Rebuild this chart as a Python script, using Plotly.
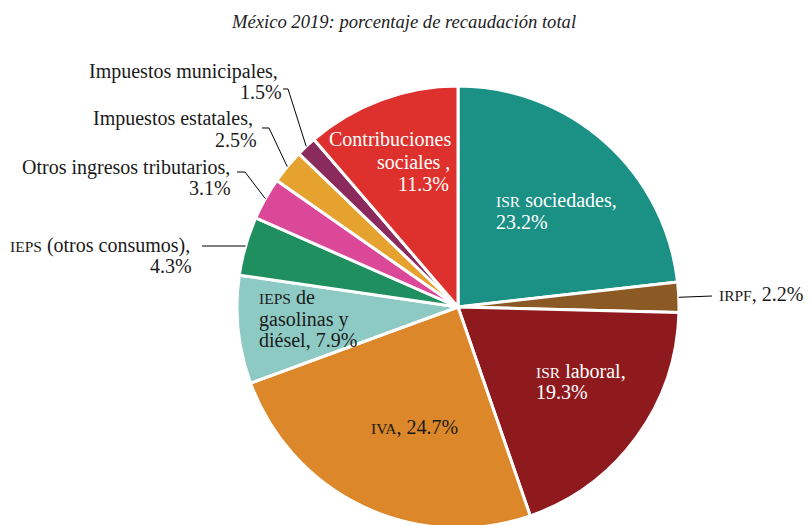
import math
import plotly.graph_objects as go

# ---- data ----
categories = ["ISR sociedades", "IRPF", "ISR laboral", "IVA",
              "IEPS de gasolinas y diésel", "IEPS (otros consumos)",
              "Otros ingresos tributarios", "Impuestos estatales",
              "Impuestos municipales", "Contribuciones sociales"]
values = [23.2, 2.2, 19.3, 24.7, 7.9, 4.3, 3.1, 2.5, 1.5, 11.3]
title_text = "México 2019: porcentaje de recaudación total"

# ---- style ----
colors = ["#1B9085", "#8B5A24", "#8E1A1E", "#DC8729", "#8ECAC4",
          "#1F8F5F", "#DC4898", "#E6A22F", "#8A2A5D", "#DE312D"]
FONT = "Liberation Serif"
FS = 20
SC = 15.5  # small-caps size
TEXT_COLOR = "#1a1a1a"


def sc(t):
    return f'<span style="font-size:{SC}px">{t}</span>'


W, H = 809, 528  # window shows the top 525 px
CX, CY, R = 458, 307, 221


def px(x):
    return x / W


def py(y):
    return 1 - y / H


label_lines = [
    [f"{sc('ISR')} sociedades,", f"{values[0]}%"],
    [f"{sc('IRPF')}, {values[1]}%"],
    [f"{sc('ISR')} laboral,", f"{values[2]}%"],
    [f"{sc('IVA')}, {values[3]}%"],
    [f"{sc('IEPS')} de", "gasolinas y", f"diésel, {values[4]}%"],
    [f"{sc('IEPS')} (otros consumos),", f"{values[5]}%"],
    ["Otros ingresos tributarios,", f"{values[6]}%"],
    ["Impuestos estatales,", f"{values[7]}%"],
    ["Impuestos municipales,", f"{values[8]}%"],
    ["Contribuciones", "sociales ,", f"{values[9]}%"],
]
# label layout: list of (x px, y px) per line, xanchor, color
label_pos = [
    ([(494, 200), (494, 222)], "left", "white"),
    ([(805, 294)], "right", TEXT_COLOR),
    ([(534, 371), (534, 392)], "left", "white"),
    ([(414, 427)], "center", TEXT_COLOR),
    ([(257, 297), (257, 319), (257, 340)], "left", TEXT_COLOR),
    ([(192, 246), (194, 266)], "right", TEXT_COLOR),
    ([(232, 167), (233, 188)], "right", TEXT_COLOR),
    ([(255, 118), (259, 140)], "right", TEXT_COLOR),
    ([(280, 71), (284, 92)], "right", TEXT_COLOR),
    ([(453, 139), (452, 162), (451, 184)], "right", "white"),
]
# leader-line start points near labels (px); y None = anchor's y
leader_start = [None, [(712, 296)], None, None, None,
                [(202, None)], [(237, 172), (245, 172)],
                [(262, 128), (269, 128)], [(283, 89), (288, 89)], None]

fig = go.Figure(go.Pie(
    labels=categories, values=values, sort=False, direction="clockwise",
    rotation=0, textinfo="none", hoverinfo="label+percent",
    marker=dict(colors=colors, line=dict(color="white", width=3)),
    domain=dict(x=[px(CX - R), px(CX + R)], y=[max(0, py(CY + R)), py(CY - R)]),
    showlegend=False,
))

annotations = []
shapes = []
total = sum(values)
cum = 0
for i, v in enumerate(values):
    mid = (cum + v / 2) / total * 2 * math.pi
    cum += v
    ax_ = CX + R * math.sin(mid)
    ay_ = CY - R * math.cos(mid)
    pts_, anc, col = label_pos[i]
    for line, (x, y) in zip(label_lines[i], pts_):
        annotations.append(dict(
            x=px(x), y=py(y), xref="paper", yref="paper", text=line,
            showarrow=False, xanchor=anc, yanchor="middle",
            font=dict(family=FONT, size=FS, color=col)))
    if leader_start[i]:
        pts = [(p[0], p[1] if p[1] is not None else ay_) for p in leader_start[i]]
        pts.append((ax_, ay_))
        path = "M " + " L ".join(f"{px(a):.5f},{py(b):.5f}" for a, b in pts)
        shapes.append(dict(type="path", xref="paper", yref="paper", path=path,
                           line=dict(color="black", width=1)))

annotations.append(dict(
    x=px(403), y=py(22), xref="paper", yref="paper", text=f"<i>{title_text}</i>",
    showarrow=False, xanchor="center", yanchor="middle",
    font=dict(family=FONT, size=18.6, color="#222")))

fig.update_layout(
    width=W, height=H, margin=dict(l=0, r=0, t=0, b=0),
    paper_bgcolor="white", plot_bgcolor="white",
    annotations=annotations, shapes=shapes,
)
fig.write_html(
    "out.html",
    config={"displayModeBar": False},
    post_script="document.body.style.margin='0';document.body.style.padding='0';"
                "document.body.style.overflow='hidden';"
                "document.documentElement.style.overflow='hidden';")
